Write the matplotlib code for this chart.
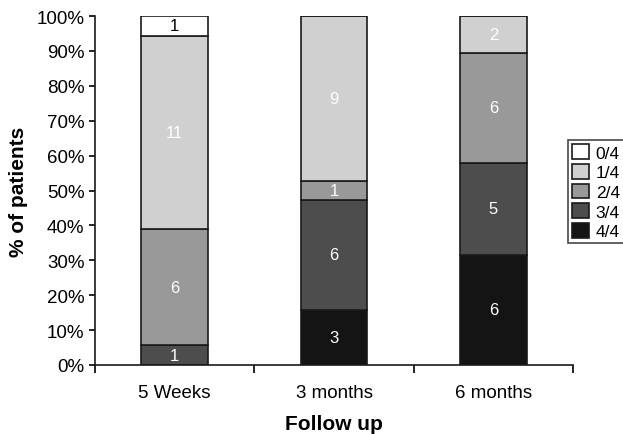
import matplotlib
matplotlib.use("Agg")
import matplotlib.pyplot as plt
from matplotlib.ticker import PercentFormatter
import numpy as np

plt.rcParams['font.family'] = ['Liberation Sans', 'DejaVu Sans']

categories = ["5 Weeks", "3 months", "6 months"]
grades = ["4/4", "3/4", "2/4", "1/4", "0/4"]

# segment heights (% of patients), bottom to top
pct_44 = [0.0, 15.8, 31.6]
pct_34 = [5.6, 31.6, 26.3]
pct_24 = [33.3, 5.2, 31.6]
pct_14 = [55.5, 47.4, 10.5]
pct_04 = [5.6, 0.0, 0.0]

# patient counts printed in each segment
cnt_44 = ["", "3", "6"]
cnt_34 = ["1", "6", "5"]
cnt_24 = ["6", "1", "6"]
cnt_14 = ["11", "9", "2"]
cnt_04 = ["1", "", ""]

series = [pct_44, pct_34, pct_24, pct_14, pct_04]
counts = [cnt_44, cnt_34, cnt_24, cnt_14, cnt_04]
colors = ["#141414", "#4d4d4d", "#999999", "#d0d0d0", "#ffffff"]
text_colors = ["white", "white", "white", "white", "black"]

fig = plt.figure(figsize=(6.23, 4.35), dpi=100)
ax = fig.add_axes([95 / 623, 1 - 366 / 435, 478 / 623, 349 / 435])

x = np.arange(len(categories))
bottom = np.zeros(len(categories))
handles = []
for vals, lab, col, tcol, grade in zip(series, counts, colors, text_colors, grades):
    vals = np.array(vals)
    bars = ax.bar(x, vals, bottom=bottom, width=0.42, color=col,
                  edgecolor="#1a1a1a", linewidth=1.2, label=grade)
    handles.append(bars)
    for xi, v, b, t in zip(x, vals, bottom, lab):
        if v > 0 and t:
            ax.text(xi, b + v / 2, t, ha="center", va="center",
                    color=tcol, fontsize=12)
    bottom += vals

ax.set_xlim(-0.5, 2.5)
ax.set_ylim(0, 100)
ax.set_yticks(np.arange(0, 101, 10))
ax.yaxis.set_major_formatter(PercentFormatter(decimals=0))
ax.set_xticks([-0.5, 0.5, 1.5, 2.5])
ax.set_xticklabels([])
ax.set_xticks(x, minor=True)
ax.set_xticklabels(categories, minor=True)
ax.tick_params(axis="x", which="minor", length=0, pad=14, labelsize=13.5)
ax.tick_params(axis="x", which="major", length=6, width=1.2, direction="out")
ax.tick_params(axis="y", length=4, width=1.2, labelsize=13.5)

for side in ["top", "right"]:
    ax.spines[side].set_visible(False)
for side in ["left", "bottom"]:
    ax.spines[side].set_linewidth(1.2)
    ax.spines[side].set_color("#1a1a1a")

ax.set_xlabel("Follow up", fontsize=15, fontweight="bold", labelpad=9)
ax.set_ylabel("% of patients", fontsize=15, fontweight="bold", labelpad=6)

leg = fig.legend(handles[::-1], grades[::-1], loc="upper left",
                 bbox_to_anchor=(568 / 623, 1 - 141 / 435),
                 fontsize=12.5, frameon=True, fancybox=False,
                 handlelength=0.95, handleheight=0.95, handletextpad=0.4,
                 borderpad=0.25, labelspacing=0.18, borderaxespad=0)
leg.get_frame().set_edgecolor("#1a1a1a")
leg.get_frame().set_linewidth(1.2)

fig.savefig("out.png", dpi=100)
